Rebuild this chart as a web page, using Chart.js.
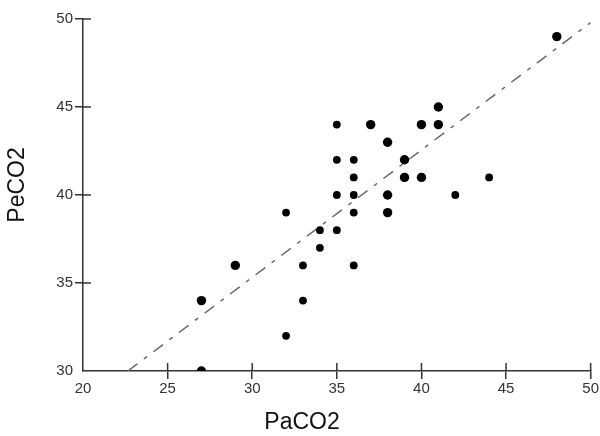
<!DOCTYPE html>
<html>
<head>
<meta charset="utf-8">
<script src="https://cdn.jsdelivr.net/npm/chart.js@4"></script>
<style>
  html, body { margin: 0; padding: 0; background: #fff; }
  canvas { display: block; }
</style>
</head>
<body>
<canvas id="scatterChart" width="600" height="436"></canvas>
<script>
// PaCO2 vs PeCO2 measurements
const paco2 = [48, 41, 41, 40, 37, 35, 38, 39, 36, 35, 36, 39, 40, 44, 35, 36, 38, 42, 32, 36, 38, 34, 35, 34, 29, 33, 36, 27, 33, 32, 27];
const peco2 = [49, 45, 44, 44, 44, 44, 43, 42, 42, 42, 41, 41, 41, 41, 40, 40, 40, 40, 39, 39, 39, 38, 38, 37, 36, 36, 36, 34, 34, 32, 30];
// how many patients sit on the same spot
const counts = [2, 2, 2, 2, 2, 1, 2, 2, 1, 1, 1, 2, 2, 1, 1, 1, 2, 1, 1, 1, 2, 1, 1, 1, 2, 1, 1, 2, 1, 1, 2];

// regression line end points
const fitX = [22.65, 50];
const fitY = [30, 49.8];

const xTicks = [20, 25, 30, 35, 40, 45, 50];
const yTicks = [30, 35, 40, 45, 50];

const points = paco2.map((x, i) => ({ x: x, y: peco2[i] }));
const fitLine = fitX.map((x, i) => ({ x: x, y: fitY[i] }));

const axisColor = '#333';
const labelFont = { family: 'Liberation Sans, Arial, sans-serif', size: 15 };

// ticks cross the axis: draw the inner half too
const innerTicks = {
    id: 'innerTicks',
    afterDraw(chart) {
        const { ctx, chartArea, scales } = chart;
        ctx.save();
        ctx.strokeStyle = axisColor;
        ctx.lineWidth = 1.5;
        scales.x.ticks.forEach(t => {
            if (t.value === scales.x.min) return;
            const px = scales.x.getPixelForValue(t.value);
            ctx.beginPath();
            ctx.moveTo(px, chartArea.bottom);
            ctx.lineTo(px, chartArea.bottom - 8);
            ctx.stroke();
        });
        scales.y.ticks.forEach(t => {
            if (t.value === scales.y.min) return;
            const py = scales.y.getPixelForValue(t.value);
            ctx.beginPath();
            ctx.moveTo(chartArea.left, py);
            ctx.lineTo(chartArea.left + 8, py);
            ctx.stroke();
        });

        // axis titles
        ctx.fillStyle = '#111';
        ctx.font = '23px "Liberation Sans", Arial, sans-serif';
        ctx.textAlign = 'center';
        ctx.textBaseline = 'middle';
        ctx.fillText('PaCO2', chartArea.left + 219, chartArea.bottom + 52);
        ctx.translate(18, chartArea.top + 166);
        ctx.rotate(-Math.PI / 2);
        ctx.fillText('PeCO2', 0, 0);
        ctx.restore();
    }
};

const ctx = document.getElementById('scatterChart').getContext('2d');
const chart = new Chart(ctx, {
    type: 'scatter',
    data: {
        datasets: [{
            label: 'PeCO2',
            data: points,
            backgroundColor: '#000',
            borderColor: '#000',
            borderWidth: 0,
            pointStyle: 'circle',
            pointRadius: c => (counts[c.dataIndex] > 1 ? 4.7 : 3.9),
            order: 1
        }, {
            type: 'line',
            label: 'fit',
            data: fitLine,
            borderColor: '#666',
            borderWidth: 1.5,
            borderDash: [12, 8, 4, 8],
            pointRadius: 0,
            fill: false,
            order: 2
        }]
    },
    options: {
        responsive: false,
        animation: false,
        events: [],
        layout: { padding: { top: 19, right: 9, left: 0, bottom: 0 } },
        plugins: {
            legend: { display: false },
            tooltip: { enabled: false }
        },
        scales: {
            x: {
                type: 'linear',
                min: 20,
                max: 50,
                afterBuildTicks: s => { s.ticks = xTicks.map(v => ({ value: v })); },
                afterFit: s => { s.height = 65; },
                border: { color: axisColor, width: 1.5 },
                grid: {
                    drawOnChartArea: false,
                    tickLength: 8,
                    lineWidth: 1.5,
                    color: c => (c.tick && c.tick.value === 20 ? 'rgba(0,0,0,0)' : axisColor)
                },
                ticks: { color: '#333', font: labelFont, padding: 1, maxRotation: 0 }
            },
            y: {
                type: 'linear',
                min: 30,
                max: 50,
                afterBuildTicks: s => { s.ticks = yTicks.map(v => ({ value: v })); },
                afterFit: s => { s.width = 83; },
                border: { color: axisColor, width: 1.5 },
                grid: {
                    drawOnChartArea: false,
                    tickLength: 8,
                    lineWidth: 1.5,
                    color: c => (c.tick && c.tick.value === 30 ? 'rgba(0,0,0,0)' : axisColor)
                },
                ticks: { color: '#333', font: labelFont, padding: 2 }
            }
        }
    },
    plugins: [innerTicks]
});
</script>
</body>
</html>
